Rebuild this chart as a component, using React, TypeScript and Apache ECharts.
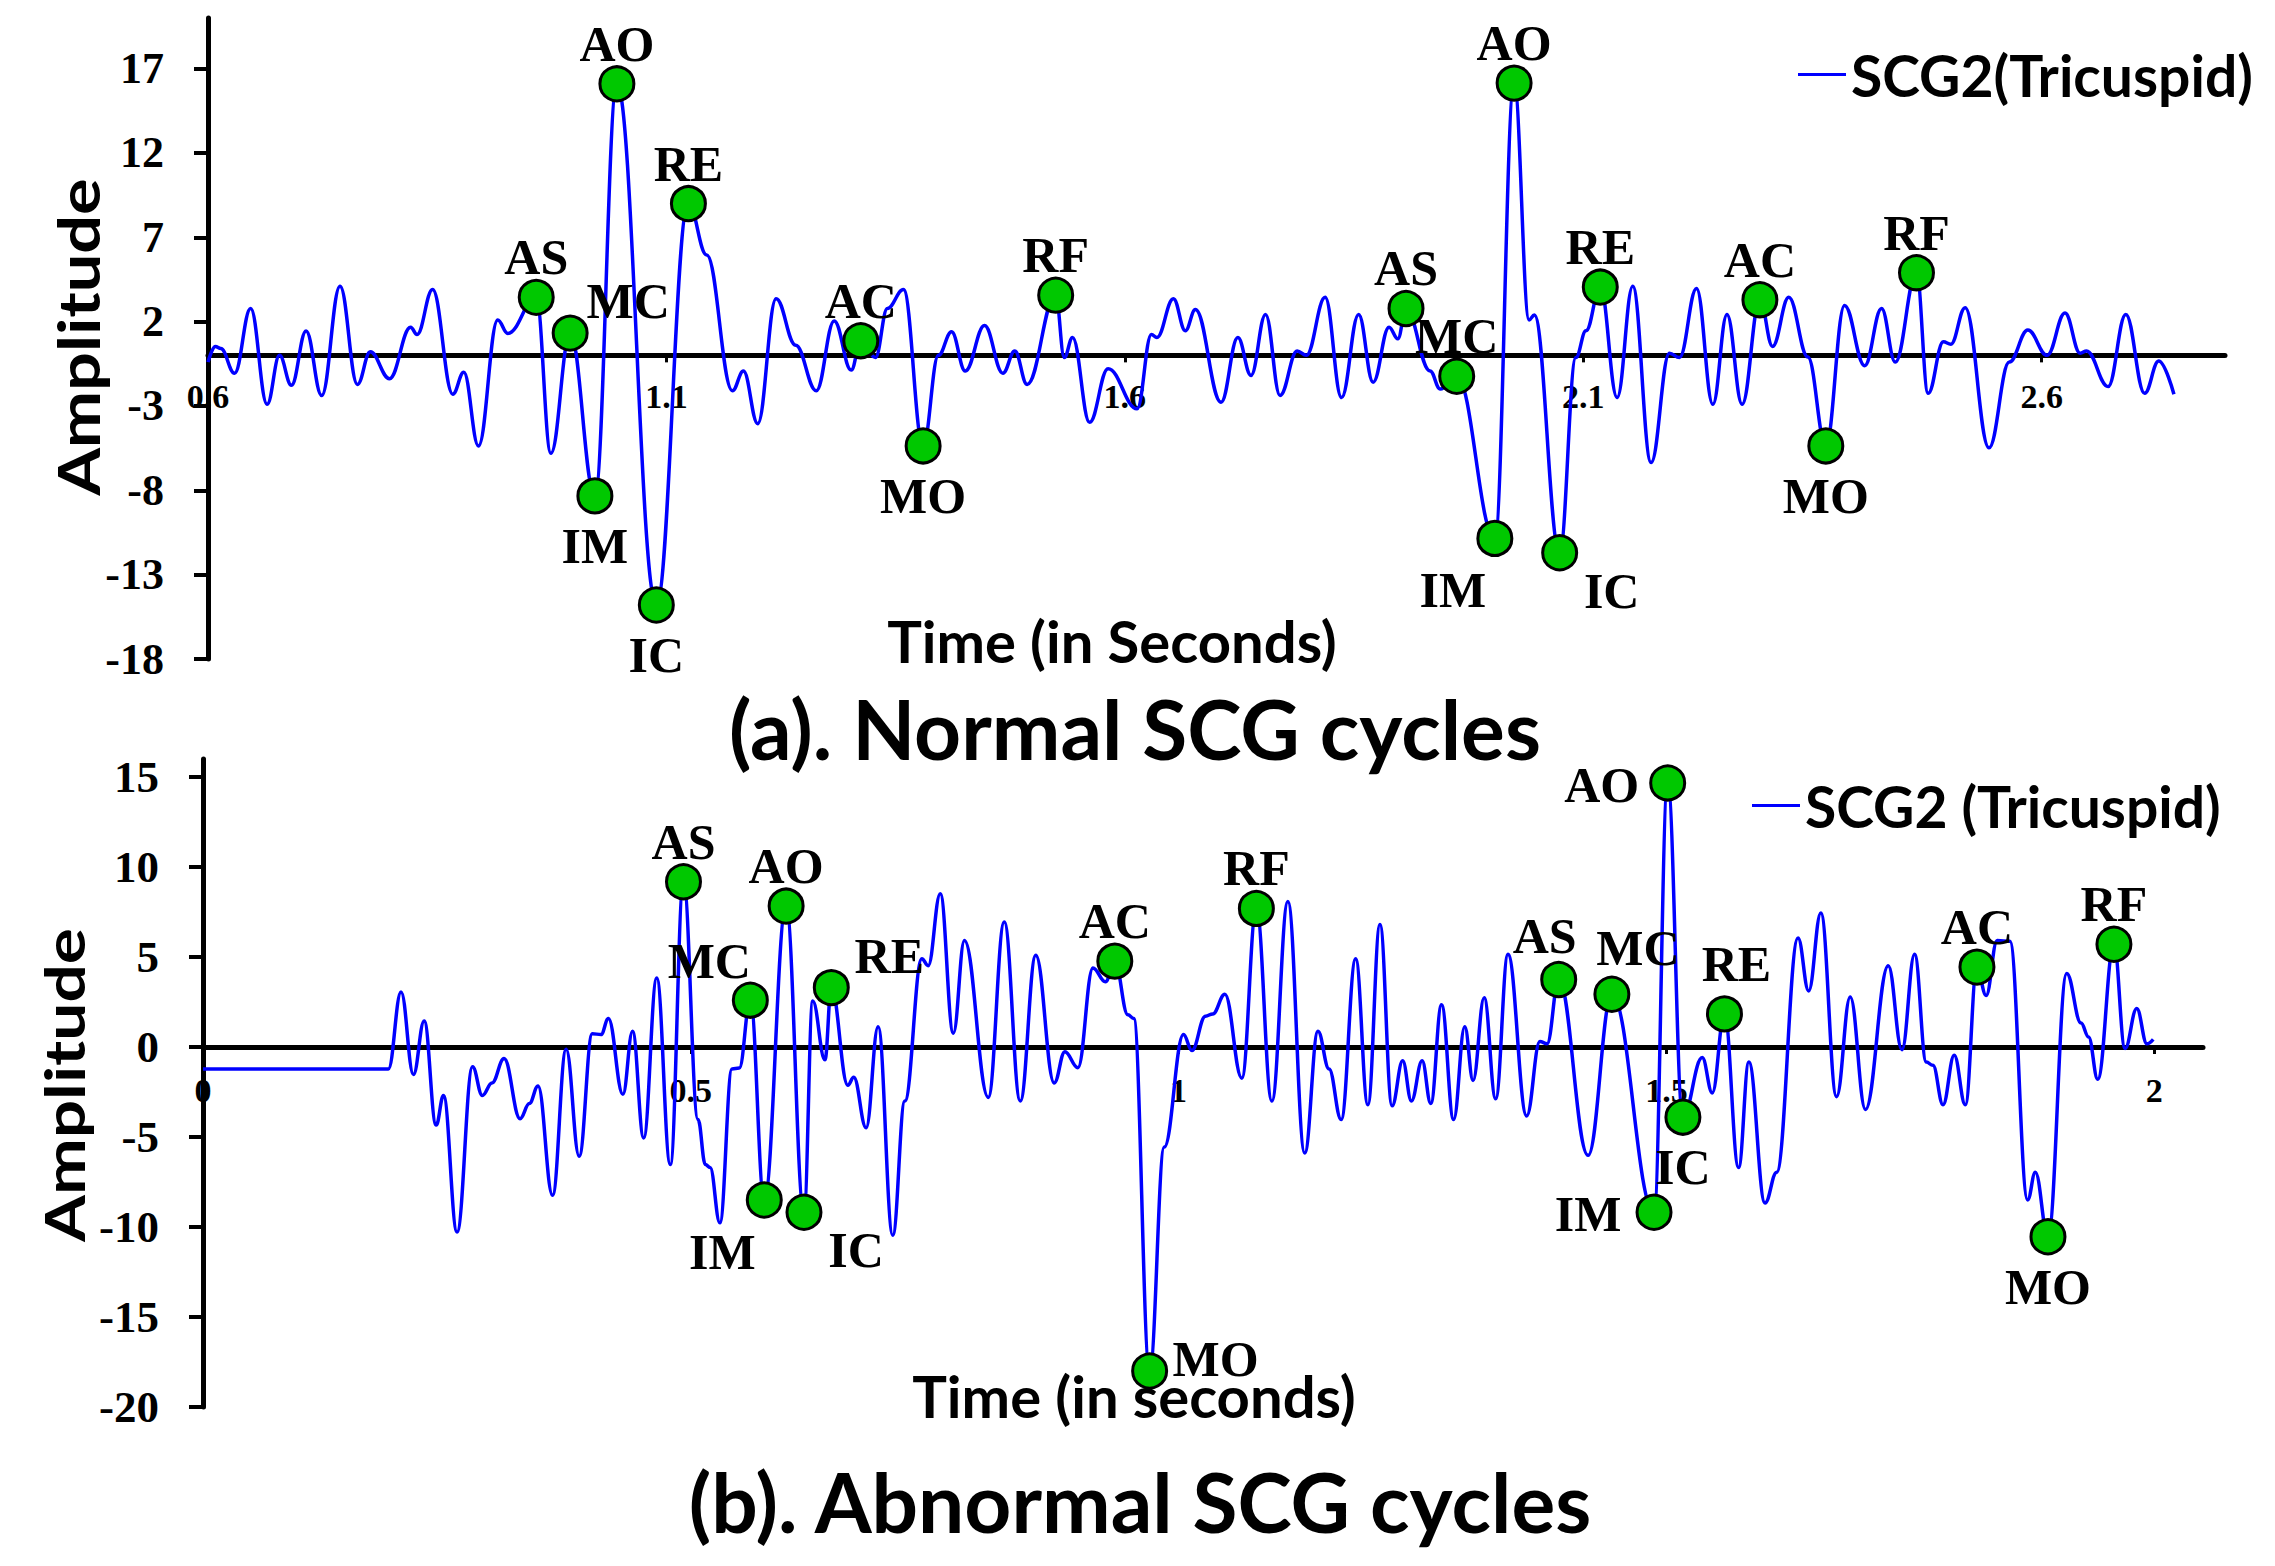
import React, { useEffect, useRef } from "react";
import * as echarts from "echarts";

// ---------- (a) Normal SCG cycles ----------
const TOP_TIME = [
  0.6, 0.608, 0.614, 0.629, 0.6465, 0.6645, 0.678, 0.691, 0.707, 0.724, 0.744, 0.763, 0.777, 0.798,
  0.821, 0.828, 0.845, 0.867, 0.879, 0.895, 0.916, 0.927, 0.958, 0.974, 0.995, 1.022, 1.046, 1.089,
  1.124, 1.144, 1.172, 1.184, 1.1996, 1.2196, 1.241, 1.2635, 1.283, 1.3016, 1.312, 1.328, 1.341,
  1.3586, 1.38, 1.3967, 1.411, 1.426, 1.447, 1.467, 1.48, 1.4934, 1.5246, 1.534, 1.543, 1.5616,
  1.5817, 1.6134, 1.629, 1.635, 1.653, 1.666, 1.677, 1.705, 1.7233, 1.7376, 1.7535, 1.7693, 1.788,
  1.798, 1.8185, 1.8364, 1.855, 1.8708, 1.8882, 1.8978, 1.9067, 1.933, 1.944, 1.962, 2.0036, 2.0246,
  2.041, 2.0467, 2.0743, 2.092, 2.103, 2.1186, 2.137, 2.154, 2.174, 2.194, 2.205, 2.2236, 2.2414,
  2.2568, 2.2733, 2.2927, 2.3065, 2.3242, 2.345, 2.3646, 2.385, 2.407, 2.4254, 2.4403, 2.4635,
  2.4762, 2.4928, 2.501, 2.5166, 2.5426, 2.5647, 2.585, 2.606, 2.6255, 2.642, 2.649, 2.6725, 2.6918,
  2.7123, 2.7277, 2.7443,
];
const TOP_AMP = [
  -0.4, 0.53, 0.4, -1.06, 2.78, -2.9, 0.0, -1.77, 1.45, -2.38, 4.1, -1.72, 0.21, -1.38,
  1.67, 1.24, 3.9, -2.3, -1.0, -5.37, 2.1, 1.3, 3.44, -5.8, 1.32, -8.33, 16.1, -14.8,
  9.0, 5.95, -2.1, -0.93, -4.05, 3.36, 0.6, -2.1, 2.04, -0.87, 0.87, -0.13, 2.78,
  3.9, -5.37, 0.0, 1.4, -0.93, 1.77, -1.06, 0.26, -1.72, 3.57, -0.13, 1.06, -3.97,
  -0.79, -3.17, 1.24, 1.06, 3.36, 1.46, 2.72, -2.78, 1.06, -1.19, 2.43, -2.38, 0.26,
  0.0, 3.44, -2.5, 2.43, -1.59, 1.67, 0.98, 2.78, -0.93, -2.0, -1.24, -10.85, 16.14,
  2.1, 2.4, -11.7, -0.13, 1.46, 4.05, -2.5, 4.1, -6.35, 0.13, -0.13, 3.97, -2.9,
  2.43, -2.9, 3.3, 0.53, 3.44, -0.1, -5.37, 2.96, -0.61, 2.78, -0.4, 4.9,
  -2.25, 0.8, 0.66, 2.83, -5.48, -0.4, 1.5, 0.0, 2.51, 0.13, 0.26, -1.85, 2.43,
  -2.25, -0.34, -2.3,
];
const TOP_EVENT_NAMES = ["AS", "MC", "IM", "AO", "IC", "RE", "AC", "MO", "RF", "AS", "MC", "IM", "AO", "IC", "RE", "AC", "MO", "RF"];
const TOP_EVENT_TIME = [0.958, 0.995, 1.022, 1.046, 1.089, 1.124, 1.312, 1.38, 1.5246, 1.9067, 1.962, 2.0036, 2.0246, 2.0743, 2.1186, 2.2927, 2.3646, 2.4635];
const TOP_EVENT_AMP = [3.44, 1.32, -8.33, 16.1, -14.8, 9.0, 0.87, -5.37, 3.57, 2.78, -1.24, -10.85, 16.14, -11.7, 4.05, 3.3, -5.37, 4.9];
const TOP_EVENT_PLACE = ["top", "topRight", "bottom", "top", "bottom", "top", "top", "bottom", "top", "top", "top", "bottomLeft", "top", "bottomRight", "top", "top", "bottom", "top"];
const TOP_X_TICKS = [0.6, 1.1, 1.6, 2.1, 2.6];
const TOP_Y_TICKS = [-18, -13, -8, -3, 2, 7, 12, 17];

// ---------- (b) Abnormal SCG cycles ----------
const BOT_TIME = [
  0.0, 0.19, 0.203, 0.2157, 0.2267, 0.239, 0.2465, 0.2604, 0.2763, 0.2863, 0.2962, 0.3086, 0.325,
  0.3345, 0.3434, 0.3583, 0.3722, 0.3856, 0.399, 0.408, 0.4155, 0.4304, 0.4403, 0.4517, 0.4651,
  0.479, 0.4925, 0.5074, 0.5149, 0.5198, 0.5298, 0.5422, 0.5497, 0.561, 0.5753, 0.5977, 0.616,
  0.625, 0.6375, 0.644, 0.661, 0.667, 0.6797, 0.692, 0.707, 0.7194, 0.7368, 0.7433, 0.7557, 0.7691,
  0.7805, 0.8049, 0.8213, 0.8377, 0.8536, 0.8725, 0.8834, 0.8968, 0.9122, 0.925, 0.9346, 0.948,
  0.954, 0.9703, 0.9853, 1.005, 1.0136, 1.0275, 1.035, 1.0474, 1.0648, 1.0797, 1.0956, 1.112,
  1.1293, 1.1428, 1.1542, 1.1666, 1.1815, 1.194, 1.2064, 1.2188, 1.2297, 1.2386, 1.2496, 1.2585,
  1.2695, 1.2819, 1.2933, 1.3018, 1.3132, 1.325, 1.3376, 1.3568, 1.3703, 1.3777, 1.3896, 1.4197,
  1.4441, 1.4873, 1.5013, 1.5169, 1.5367, 1.547, 1.5595, 1.574, 1.5845, 1.6011, 1.613, 1.6349,
  1.6458, 1.6583, 1.6744, 1.6884, 1.704, 1.7274, 1.7414, 1.7544, 1.7664, 1.7732, 1.7835, 1.795,
  1.8064, 1.8183, 1.8277, 1.839, 1.8521, 1.8703, 1.8781, 1.8911, 1.9103, 1.925, 1.9327, 1.9421,
  1.9587, 1.9701, 1.9821, 1.9925, 1.999,
];
const BOT_AMP = [
  -1.22, -1.22, 3.06, -1.53, 1.45, -4.34, -2.7, -10.28, -1.1, -2.7, -2.0, -0.64, -3.98,
  -3.14, -2.17, -8.24, -0.13, -6.07, 0.74, 0.69, 1.58, -2.63, 0.87, -5.05, 3.83,
  -6.53, 9.18, -4.03, -6.53, -6.7, -9.77, -1.22, -1.17, 2.6, -8.5, 7.83, -9.18,
  2.55, -0.71, 3.3, -2.12, -1.68, -4.49, 1.12, -10.46, -3.0, 4.9, 4.52, 8.52, 0.77,
  5.92, -2.8, 6.94, -3.0, 5.1, -2.0, -0.26, -1.15, 4.39, 3.62, 4.77, 1.79,
  1.58, -18.0, -5.56, 0.69, -0.2, 1.71, 1.84, 2.93, -1.73, 7.7, -3.0, 8.09,
  -5.89, 0.87, -1.22, -4.03, 4.9, -3.21, 6.81, -3.27, -0.77, -3.0, -0.77, -3.14,
  2.35, -4.03, 1.12, -1.86, 2.73, -2.88, 5.15, -3.83, 0.3, 0.18, 3.75, -6.02,
  2.93, -9.18, 14.67, -3.9, -0.59, -2.55, 1.84, -6.7, -0.84, -8.67, -6.96, 6.05,
  3.11, 7.45, -2.76, 2.78, -3.47, 4.52, -0.15, 5.15, -0.84, -1.02, -3.21, -0.46,
  -3.21, 4.44, 2.86, 5.92, 5.87, -8.5, -6.96, -10.54, 4.08, 1.33, 0.56, -1.79,
  5.71, -0.08, 2.14, 0.18, 0.43,
];
const BOT_EVENT_NAMES = ["AS", "MC", "IM", "AO", "IC", "RE", "AC", "MO", "RF", "AS", "MC", "IM", "AO", "IC", "RE", "AC", "MO", "RF"];
const BOT_EVENT_TIME = [0.4925, 0.561, 0.5753, 0.5977, 0.616, 0.644, 0.9346, 0.9703, 1.0797, 1.3896, 1.4441, 1.4873, 1.5013, 1.5169, 1.5595, 1.8183, 1.8911, 1.9587];
const BOT_EVENT_AMP = [9.18, 2.6, -8.5, 7.83, -9.18, 3.3, 4.77, -18.0, 7.7, 3.75, 2.93, -9.18, 14.67, -3.9, 1.84, 4.44, -10.54, 5.71];
const BOT_EVENT_PLACE = ["top", "topLeft", "bottomLeft", "top", "bottomRight", "topRight", "top", "right", "top", "topWest", "topEast", "left", "left", "bottom", "topHigh", "top", "bottom", "top"];
const BOT_X_TICKS = [0, 0.5, 1, 1.5, 2];
const BOT_Y_TICKS = [-20, -15, -10, -5, 0, 5, 10, 15];

const TOP_SERIES_NAME = "SCG2(Tricuspid)";
const BOT_SERIES_NAME = "SCG2 (Tricuspid)";

// layout (pixels)
const TOP_GRID = { left: 208, top: 18, width: 2017, height: 641 };
const BOT_GRID = { left: 203, top: 759, width: 2000, height: 648 };
const TOP_Y_RANGE = [-18, 20];
const BOT_Y_RANGE = [-20, 16];

const PLACE_OFFSET: Record<string, number[]> = {
  top: [0, -40],
  topWest: [-14, -44],
  topEast: [26, -46],
  topHigh: [12, -50],
  bottom: [0, 50],
  topRight: [58, -32],
  topLeft: [-41, -39],
  bottomRight: [52, 38],
  bottomLeft: [-42, 52],
  left: [-66, 2],
  right: [66, -12],
};

const SERIF = "'Liberation Serif', 'Times New Roman', serif";
const SANS = "Lato, 'Open Sans', sans-serif";

function zip(xs: number[], ys: number[]) {
  return xs.map((x, i) => [x, ys[i]]);
}

function events(names: string[], ts: number[], vs: number[], places: string[]) {
  return names.map((n, i) => ({
    name: n,
    value: [ts[i], vs[i]],
    label: { offset: PLACE_OFFSET[places[i]] || [0, -40] },
  }));
}

// offset that moves a bottom x axis up to the y = 0 line
function zeroOffset(grid: { height: number }, yr: number[]) {
  return -grid.height * (0 - yr[0]) / (yr[1] - yr[0]);
}

function xAxisCfg(grid: number, min: number, max: number, ticks: number[], margin: number, offset: number) {
  return {
    type: "value",
    gridIndex: grid,
    position: "bottom",
    offset,
    min,
    max,
    axisLine: { show: true, onZero: false, lineStyle: { color: "#000", width: 5 } },
    axisTick: { show: true, customValues: ticks, length: 7, lineStyle: { color: "#000", width: 3 } },
    axisLabel: {
      customValues: ticks,
      formatter: (v: number) => String(+v.toFixed(1)),
      margin,
      color: "#000",
      fontFamily: SERIF,
      fontWeight: "bold",
      fontSize: 34,
    },
    splitLine: { show: false },
  };
}

function yAxisCfg(grid: number, yr: number[], ticks: number[], fs: number) {
  return {
    type: "value",
    gridIndex: grid,
    min: yr[0],
    max: yr[1],
    axisLine: { show: true, onZero: false, lineStyle: { color: "#000", width: 5 } },
    axisTick: { show: true, customValues: ticks, length: 14, lineStyle: { color: "#000", width: 4 } },
    axisLabel: {
      customValues: ticks,
      margin: 44,
      color: "#000",
      fontFamily: SERIF,
      fontWeight: "bold",
      fontSize: fs,
    },
    splitLine: { show: false },
  };
}

function lineSeries(name: string, idx: number, data: number[][]) {
  return {
    name,
    type: "line",
    xAxisIndex: idx,
    yAxisIndex: idx,
    data,
    smooth: 0.4,
    smoothMonotone: "x",
    showSymbol: false,
    symbol: "none",
    lineStyle: { color: "#0000ff", width: 3.5 },
    itemStyle: { color: "#0000ff" },
    z: 2,
  };
}

function eventSeries(idx: number, data: any[]) {
  return {
    type: "scatter",
    xAxisIndex: idx,
    yAxisIndex: idx,
    data,
    symbol: "circle",
    symbolSize: 34,
    itemStyle: { color: "#00c800", borderColor: "#000", borderWidth: 3, opacity: 1 },
    label: {
      show: true,
      position: "inside",
      formatter: "{b}",
      color: "#000",
      fontFamily: SERIF,
      fontWeight: "bold",
      fontSize: 50,
    },
    emphasis: { disabled: true },
    z: 4,
  };
}

function txt(text: string, x: number, y: number, fs: number, extra: any = {}) {
  return {
    type: "text",
    x,
    y,
    z: 1,
    ...extra,
    style: {
      text,
      fill: "#000",
      font: `bold ${fs}px ${SANS}`,
      align: "center",
      verticalAlign: "middle",
    },
  };
}

export default function App() {
  const ref = useRef<HTMLDivElement>(null);

  useEffect(() => {
    document.body.style.margin = "0";
    document.body.style.overflow = "hidden";
    if (!ref.current) return;
    const chart = echarts.init(ref.current, undefined, { renderer: "svg" });
    const legendText = { color: "#000", fontFamily: SANS, fontWeight: "bold", fontSize: 57 };
    const option: any = {
      animation: false,
      backgroundColor: "#fff",
      grid: [TOP_GRID, BOT_GRID],
      xAxis: [
        xAxisCfg(0, 0.6, 2.8, TOP_X_TICKS, 24, zeroOffset(TOP_GRID, TOP_Y_RANGE)),
        xAxisCfg(1, 0, 2.05, BOT_X_TICKS, 26, zeroOffset(BOT_GRID, BOT_Y_RANGE)),
      ],
      yAxis: [
        yAxisCfg(0, TOP_Y_RANGE, TOP_Y_TICKS, 44),
        yAxisCfg(1, BOT_Y_RANGE, BOT_Y_TICKS, 45),
      ],
      legend: [
        {
          data: [TOP_SERIES_NAME],
          left: 1798,
          top: 46,
          padding: 0,
          icon: "rect",
          itemWidth: 48,
          itemHeight: 3,
          selectedMode: false,
          textStyle: legendText,
        },
        {
          data: [BOT_SERIES_NAME],
          left: 1752,
          top: 777,
          padding: 0,
          icon: "rect",
          itemWidth: 48,
          itemHeight: 3,
          selectedMode: false,
          textStyle: legendText,
        },
      ],
      graphic: [
        txt("Amplitude", 78, 337, 57, { rotation: Math.PI / 2, scaleX: 1.2 }),
        txt("Amplitude", 64, 1085, 55, { rotation: Math.PI / 2, scaleX: 1.23 }),
        txt("Time (in Seconds)", 1112, 640, 58),
        txt("(a). Normal SCG cycles", 1135, 728, 82),
        txt("Time (in seconds)", 1134, 1395, 58),
        txt("(b). Abnormal SCG cycles", 1140, 1501, 82),
      ],
      series: [
        lineSeries(TOP_SERIES_NAME, 0, zip(TOP_TIME, TOP_AMP)),
        eventSeries(0, events(TOP_EVENT_NAMES, TOP_EVENT_TIME, TOP_EVENT_AMP, TOP_EVENT_PLACE)),
        lineSeries(BOT_SERIES_NAME, 1, zip(BOT_TIME, BOT_AMP)),
        eventSeries(1, events(BOT_EVENT_NAMES, BOT_EVENT_TIME, BOT_EVENT_AMP, BOT_EVENT_PLACE)),
      ],
    };
    chart.setOption(option);
    return () => chart.dispose();
  }, []);

  return <div ref={ref} style={{ width: 2275, height: 1566 }} />;
}
